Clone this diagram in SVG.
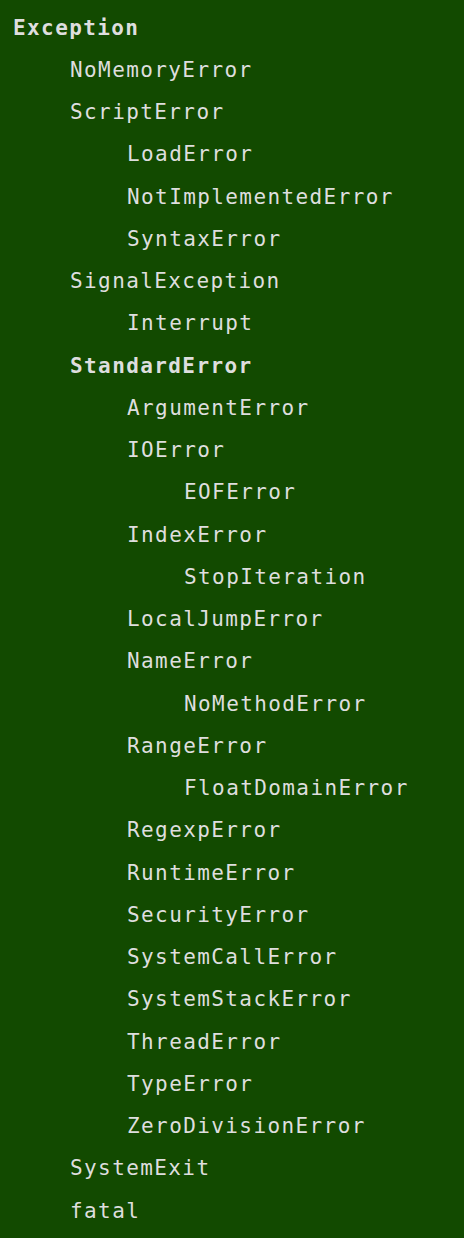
<svg xmlns="http://www.w3.org/2000/svg" width="464" height="1238" viewBox="0 0 464 1238">
  <style>
    text { font-family: "DejaVu Sans Mono", "Liberation Mono", monospace; font-size: 21px; letter-spacing: 1.4px; fill: #dedede; }
    .b { font-weight: bold; }
  </style>
  <!-- page background -->
  <rect width="464" height="1238" fill="#124a00"/>
  <!-- exception class hierarchy, indented by depth (57px per level, 42.25px per row) -->
  <g id="tree">
    <g id="n-exception"><text class="b" x="13" y="34.5">Exception</text></g>
    <g id="n-nomemoryerror"><text x="70" y="76.7">NoMemoryError</text></g>
    <g id="n-scripterror"><text x="70" y="119">ScriptError</text></g>
    <g id="n-loaderror"><text x="127" y="161.2">LoadError</text></g>
    <g id="n-notimplementederror"><text x="127" y="203.5">NotImplementedError</text></g>
    <g id="n-syntaxerror"><text x="127" y="245.7">SyntaxError</text></g>
    <g id="n-signalexception"><text x="70" y="288">SignalException</text></g>
    <g id="n-interrupt"><text x="127" y="330.2">Interrupt</text></g>
    <g id="n-standarderror"><text class="b" x="70" y="372.5">StandardError</text></g>
    <g id="n-argumenterror"><text x="127" y="414.7">ArgumentError</text></g>
    <g id="n-ioerror"><text x="127" y="457">IOError</text></g>
    <g id="n-eoferror"><text x="184" y="499.2">EOFError</text></g>
    <g id="n-indexerror"><text x="127" y="541.5">IndexError</text></g>
    <g id="n-stopiteration"><text x="184" y="583.7">StopIteration</text></g>
    <g id="n-localjumperror"><text x="127" y="626">LocalJumpError</text></g>
    <g id="n-nameerror"><text x="127" y="668.2">NameError</text></g>
    <g id="n-nomethoderror"><text x="184" y="710.5">NoMethodError</text></g>
    <g id="n-rangeerror"><text x="127" y="752.7">RangeError</text></g>
    <g id="n-floatdomainerror"><text x="184" y="795">FloatDomainError</text></g>
    <g id="n-regexperror"><text x="127" y="837.2">RegexpError</text></g>
    <g id="n-runtimeerror"><text x="127" y="879.5">RuntimeError</text></g>
    <g id="n-securityerror"><text x="127" y="921.7">SecurityError</text></g>
    <g id="n-systemcallerror"><text x="127" y="964">SystemCallError</text></g>
    <g id="n-systemstackerror"><text x="127" y="1006.2">SystemStackError</text></g>
    <g id="n-threaderror"><text x="127" y="1048.5">ThreadError</text></g>
    <g id="n-typeerror"><text x="127" y="1090.7">TypeError</text></g>
    <g id="n-zerodivisionerror"><text x="127" y="1133">ZeroDivisionError</text></g>
    <g id="n-systemexit"><text x="70" y="1175.2">SystemExit</text></g>
    <g id="n-fatal"><text x="70" y="1217.5">fatal</text></g>
  </g>
</svg>
